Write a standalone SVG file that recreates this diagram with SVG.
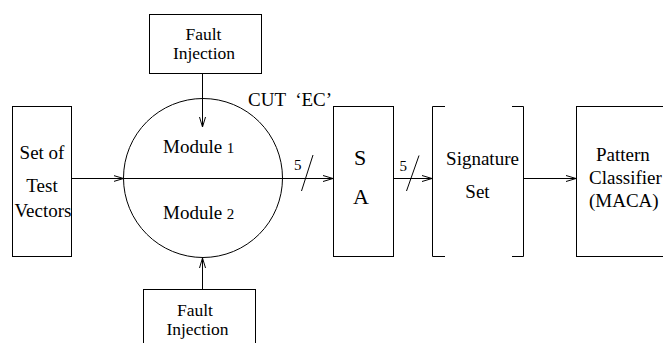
<svg xmlns="http://www.w3.org/2000/svg" width="663" height="343" viewBox="0 0 663 343">
<style>
.s{fill:none;stroke:#000;stroke-width:1}
.c{text-anchor:middle}
.big{font-size:22px}
.sm{font-size:15px}
.fi{font-size:17.5px}
</style>
<defs>
<marker id="ah" viewBox="0 0 10 8" refX="10" refY="4" markerWidth="10" markerHeight="8" markerUnits="userSpaceOnUse" orient="auto">
<path d="M0,1 L10,4 L0,7" fill="none" stroke="#000" stroke-width="1"/>
</marker>
</defs>
<rect width="663" height="343" fill="#fff"/>
<g font-family="Liberation Serif, DejaVu Serif, serif" font-size="19" fill="#000">
<g id="fault-top">
<rect class="s" x="149.5" y="14.5" width="112" height="59"/>
<text class="c fi" x="203.5" y="39.5">Fault</text>
<text class="c fi" x="204" y="59">Injection</text>
</g>
<g id="test-vectors">
<rect class="s" x="12.5" y="106.5" width="59" height="150"/>
<text class="c" x="42" y="159">Set of</text>
<text class="c" x="42" y="192">Test</text>
<text class="c" x="43" y="216.5">Vectors</text>
</g>
<g id="cut">
<circle class="s" cx="203" cy="178" r="79.5"/>
<text x="248" y="106" xml:space="preserve">CUT  ‘EC’</text>
<text x="163" y="152.5">Module <tspan class="sm">1</tspan></text>
<text x="163" y="218.5">Module <tspan class="sm">2</tspan></text>
</g>
<g id="sa">
<rect class="s" x="333.5" y="106.5" width="60" height="150"/>
<text class="c big" x="360" y="165">S</text>
<text class="c big" x="361" y="204">A</text>
</g>
<g id="signature-set">
<path class="s" d="M445,106.5 H432.5 V256.5 H445 M512,106.5 H523.5 V256.5 H512"/>
<text class="c" x="482.5" y="165">Signature</text>
<text class="c" x="477.5" y="198">Set</text>
</g>
<g id="classifier">
<rect class="s" x="576.5" y="106.5" width="100" height="150"/>
<text x="596" y="161">Pattern</text>
<text x="589" y="184">Classifier</text>
<text x="589" y="207">(MACA)</text>
</g>
<g id="fault-bottom">
<rect class="s" x="143.5" y="289.5" width="112" height="70"/>
<text class="c fi" x="195" y="315.5">Fault</text>
<text class="c fi" x="197.5" y="335">Injection</text>
</g>
<g id="connectors">
<line class="s" x1="202.5" y1="73.5" x2="202.5" y2="127" marker-end="url(#ah)"/>
<line class="s" x1="202.5" y1="289" x2="202.5" y2="258" marker-end="url(#ah)"/>
<line class="s" x1="71.5" y1="178.5" x2="123.5" y2="178.5" marker-end="url(#ah)"/>
<line class="s" x1="123.5" y1="178.5" x2="333" y2="178.5" marker-end="url(#ah)"/>
<line class="s" x1="313" y1="155" x2="301.5" y2="191"/>
<text class="sm" x="294" y="170">5</text>
<line class="s" x1="393.5" y1="178.5" x2="432" y2="178.5" marker-end="url(#ah)"/>
<line class="s" x1="419" y1="155.5" x2="406.5" y2="191"/>
<text class="sm" x="399.5" y="170.5">5</text>
<line class="s" x1="523.5" y1="178.5" x2="576" y2="178.5" marker-end="url(#ah)"/>
</g>
</g>
</svg>
